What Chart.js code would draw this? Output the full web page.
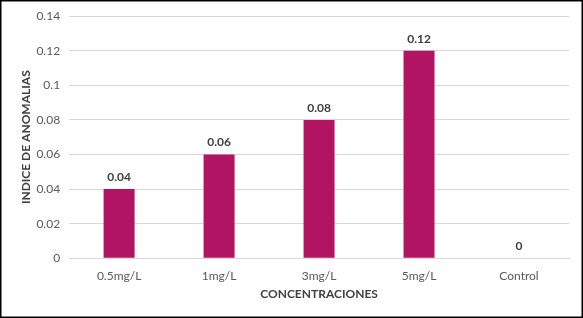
<!DOCTYPE html>
<html>
<head>
<meta charset="utf-8">
<script src="https://cdn.jsdelivr.net/npm/chart.js@4"></script>
<style>
  html, body { margin: 0; padding: 0; background: #fff; }
  #wrap { width: 583px; height: 318px; position: relative; }
</style>
</head>
<body>
<div id="wrap"><canvas id="grafico"></canvas></div>
<script>
// Datos del gráfico
const categorias = ['0.5mg/L', '1mg/L', '3mg/L', '5mg/L', 'Control'];
const indices = [0.04, 0.06, 0.08, 0.12, 0];
const etiquetas = ['0.04', '0.06', '0.08', '0.12', '0'];

const colorBarra = 'rgb(176, 20, 98)';
const fuente = 'Lato, "DejaVu Sans", sans-serif';

// Etiquetas de valor sobre cada barra
const pluginEtiquetas = {
  id: 'etiquetas',
  afterDatasetsDraw(chart) {
    const ctx = chart.ctx;
    const meta = chart.getDatasetMeta(0);
    ctx.save();
    ctx.font = 'bold 12px ' + fuente;
    ctx.fillStyle = '#404040';
    ctx.textAlign = 'center';
    ctx.textBaseline = 'bottom';
    meta.data.forEach((barra, i) => {
      ctx.fillText(etiquetas[i], barra.x, barra.y - 6);
    });
    ctx.restore();
  }
};

// Borde exterior
const pluginBorde = {
  id: 'borde',
  beforeDraw(chart) {
    const ctx = chart.ctx;
    ctx.save();
    ctx.fillStyle = '#fff';
    ctx.fillRect(0, 0, chart.width, chart.height);
    ctx.strokeStyle = '#000';
    ctx.lineWidth = 1.5;
    ctx.strokeRect(0.75, 0.75, chart.width - 1.5, chart.height - 1.5);
    ctx.restore();
  }
};

new Chart(document.getElementById('grafico'), {
  type: 'bar',
  data: {
    labels: categorias,
    datasets: [{
      label: 'Indice',
      data: indices,
      backgroundColor: colorBarra,
      categoryPercentage: 1,
      barPercentage: 0.31
    }]
  },
  plugins: [pluginBorde, pluginEtiquetas],
  options: {
    responsive: true,
    maintainAspectRatio: false,
    animation: false,
    layout: { padding: { top: 4, right: 14, left: 19, bottom: 17 } },
    plugins: {
      legend: { display: false },
      tooltip: { enabled: false }
    },
    scales: {
      x: {
        grid: { display: false },
        border: { display: true, color: '#d9d9d9' },
        ticks: { color: '#595959', font: { family: fuente, size: 12 }, padding: 3 },
        title: {
          display: true,
          text: 'CONCENTRACIONES',
          color: '#404040',
          font: { family: fuente, size: 12, weight: 'bold' },
          padding: { top: 0, bottom: 0 }
        }
      },
      y: {
        min: 0,
        max: 0.14,
        grid: { color: '#d9d9d9', drawTicks: false },
        border: { display: false },
        ticks: {
          stepSize: 0.02,
          color: '#595959',
          font: { family: fuente, size: 12 },
          padding: 9,
          callback: v => String(Math.round(v * 100) / 100)
        },
        title: {
          display: true,
          text: 'INDICE DE ANOMALIAS',
          color: '#404040',
          font: { family: fuente, size: 12, weight: 'bold' },
          padding: { top: 0, bottom: -6 }
        }
      }
    }
  }
});
</script>
</body>
</html>
